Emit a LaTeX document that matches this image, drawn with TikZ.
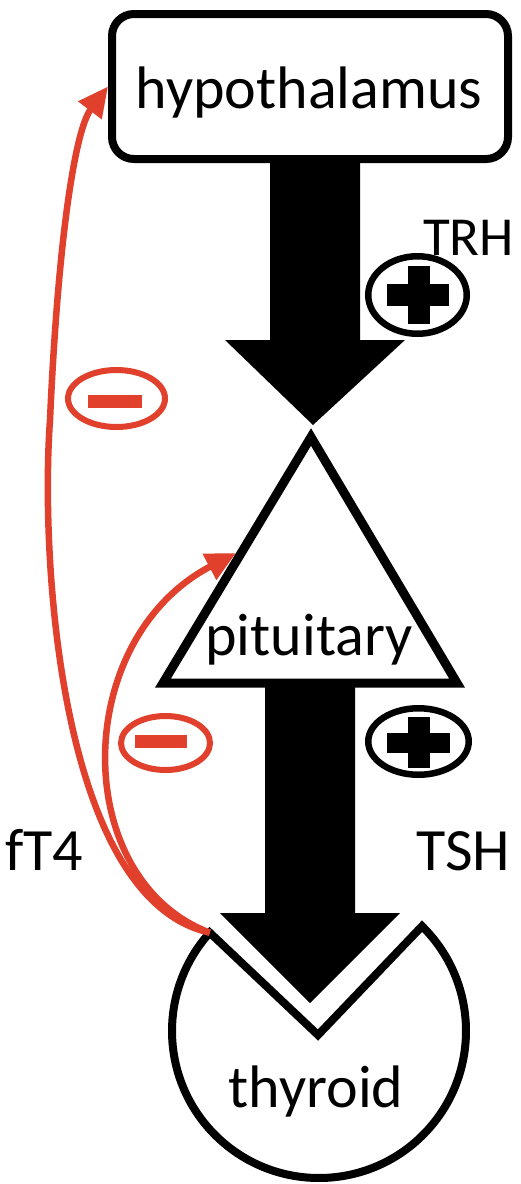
\documentclass[tikz,border=0pt]{standalone}
\usepackage{fontspec}
\setmainfont{Carlito}
\usetikzlibrary{arrows.meta,shapes.geometric}
\definecolor{fbred}{RGB}{224,64,44}
\begin{document}
\begin{tikzpicture}[x=1pt,y=-1pt,
  lbl/.style={font=\fontsize{60}{63}\selectfont, inner sep=0pt},
  box/.style={draw, line width=8pt, rounded corners=22pt, minimum width=396pt, minimum height=145pt, fill=white},
  fb/.style={draw=fbred, line width=6.5pt, -{Triangle[length=30pt,width=28pt]}},
  minusring/.style={draw=fbred, line width=6pt, ellipse, inner sep=0pt},
  plusring/.style={draw=black, line width=6.5pt, ellipse, inner sep=0pt}]
\useasboundingbox (0,0) rectangle (520,1184);
\fill[white] (0,0) rectangle (520,1184);

% hypothalamus
\node[box] (hyp) at (310,86.5) {};
\node[lbl, anchor=base] (hyptxt) at (309,108) {hypothalamus};

% TRH arrow
\fill (270,163) -- (360,163) -- (360,340) -- (405,340) -- (313,425) -- (225,340) -- (270,340) -- cycle;

% pituitary
\draw[line width=9pt, line join=miter, fill=white] (311,437) -- (457,683) -- (163,683) -- cycle;
\node[lbl, anchor=base] (pit) at (309,655) {pituitary};
\coordinate (pitL) at (236,553);

% TSH arrow
\fill (265,685) -- (355,685) -- (355,913) -- (400,913) -- (310,1003) -- (220,913) -- (265,913) -- cycle;

% thyroid
\draw[line width=8pt, line join=miter] (319,1031) ++(-45.5:147) arc[start angle=-45.5, end angle=222, radius=147] coordinate (tstart) -- (318,1035) -- cycle;
\node[lbl, anchor=base] (thy) at (316,1107) {thyroid};

% labels
\node[lbl, anchor=base west, font=\fontsize{55}{58}\selectfont] (trh) at (423,255) {TRH};
\node[lbl, anchor=base west] (tsh) at (416,870) {TSH};
\node[lbl, anchor=base west] (ft4) at (5,870) {fT4};

% plus signs
\node[plusring, minimum width=98.5pt, minimum height=77.5pt] (plus1) at (417.5,295) {};
\fill (387,284) rectangle (449,306);
\fill (408,266) rectangle (430,324);
\node[plusring, minimum width=100.5pt, minimum height=66.5pt] (plus2) at (418.5,741.5) {};
\fill (387,733) rectangle (450,753);
\fill (408,717) rectangle (430,768);

% minus signs
\node[minusring, minimum width=97pt, minimum height=57pt] (minus1) at (116.5,398.5) {};
\fill[fbred] (88,395) rectangle (142,408);
\node[minusring, minimum width=89pt, minimum height=54pt] (minus2) at (165.5,743) {};
\fill[fbred] (135,735) rectangle (187,748);

% feedback curves
\draw[fb] (tstart) .. controls (60,900) and (40,560) .. (50,420) .. controls (58,240) and (75,130) .. (hyp.west);
\draw[fb] (tstart) .. controls (70,880) and (70,640) .. (pitL);
\end{tikzpicture}
\end{document}
